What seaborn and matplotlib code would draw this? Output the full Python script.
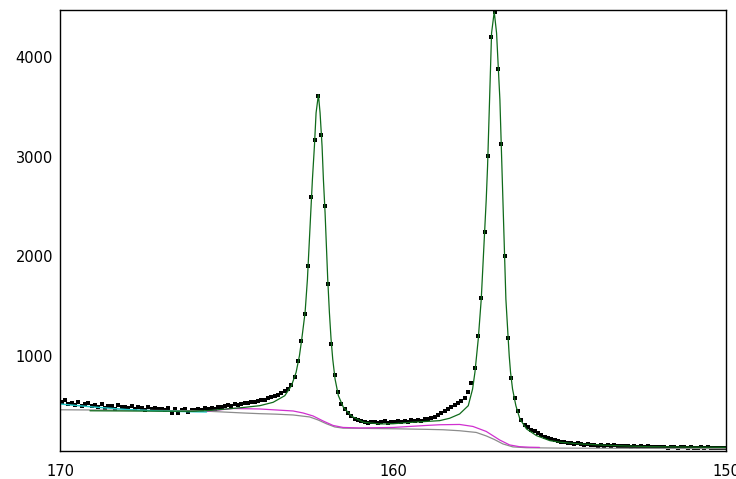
import numpy as np
import matplotlib
matplotlib.use("Agg")
import matplotlib.pyplot as plt
import seaborn as sns
import pandas as pd

# measured spectrum, 0.1 eV steps from 169.95 down to 150.05
energy = np.round(np.arange(169.95, 150.0, -0.1), 2)
counts = [
    545, 560, 520, 530, 510, 535, 500, 515, 525, 495,
    505, 490, 515, 480, 500, 495, 470, 505, 485, 490,
    480, 495, 470, 485, 475, 460, 490, 470, 480, 465,
    470, 455, 480, 430, 465, 425, 460, 470, 440, 455,
    460, 470, 455, 475, 465, 480, 470, 490, 485, 495,
    505, 500, 515, 510, 520, 530, 525, 540, 535, 555,
    565, 560, 580, 590, 600, 615, 635, 650, 675, 710,
    790, 950, 1150, 1420, 1900, 2590, 3170, 3610, 3220, 2500,
    1720, 1120, 810, 640, 515, 465, 430, 395, 372, 358,
    345, 340, 330, 342, 335, 325, 338, 345, 330, 340,
    335, 345, 340, 350, 338, 355, 348, 360, 352, 365,
    372, 380, 392, 405, 425, 445, 470, 490, 505, 525,
    550, 585, 640, 730, 880, 1200, 1580, 2240, 3010, 4200,
    4450, 3880, 3130, 2000, 1180, 780, 580, 450, 360, 310,
    285, 262, 245, 228, 210, 190, 178, 165, 158, 150,
    140, 135, 128, 132, 120, 125, 118, 112, 120, 108,
    110, 104, 112, 100, 106, 98, 105, 96, 102, 95,
    98, 92, 100, 90, 95, 88, 97, 90, 86, 94,
    88, 92, 84, 90, 86, 82, 91, 85, 80, 88,
    84, 80, 87, 78, 85, 82, 76, 84, 80, 78,
]

# fitted envelope
fit_x = [169.1, 168, 167, 166, 165.5, 165, 164.5, 164.0, 163.6, 163.25, 163.05,
         162.91, 162.81, 162.74, 162.64, 162.57, 162.52, 162.47, 162.42, 162.36,
         162.31, 162.24, 162.19, 162.13, 162.09, 162.04, 162.00, 161.96, 161.91,
         161.86, 161.81, 161.74, 161.64, 161.49, 161.24, 160.89, 160.4, 160.0,
         159.5, 159.0, 158.6, 158.3, 158.0, 157.74, 157.61, 157.54, 157.49, 157.44,
         157.35, 157.30, 157.25, 157.20, 157.16, 157.13, 157.10, 157.07, 157.04,
         156.96, 156.89, 156.84, 156.79, 156.76, 156.73, 156.70, 156.67, 156.64,
         156.61, 156.54, 156.51, 156.47, 156.41, 156.31, 156.19, 155.99, 155.69,
         155.29, 154.99, 154.4, 153.5, 152.4, 151.0, 150.0]
fit_y = [452, 450, 448, 447, 455, 470, 485, 503, 537, 603, 703,
         837, 1003, 1170, 1437, 1770, 2103, 2437, 2770, 3103,
         3437, 3620, 3437, 3103, 2770, 2437, 2103, 1770, 1437,
         1170, 970, 770, 603, 487, 397, 337, 320, 322,
         335, 345, 353, 377, 420, 503, 670, 837, 1003, 1170,
         1570, 1903, 2237, 2570, 2903, 3237, 3570, 3903, 4237,
         4450, 4237, 3903, 3570, 3237, 2903, 2570, 2237, 1903,
         1570, 1170, 1003, 837, 670, 503, 370, 270, 203,
         153, 137, 120, 105, 93, 88, 86]

# backgrounds
bg_x = [170, 168, 166, 165.6, 164.5, 164, 163.5, 163, 162.5, 162.25, 162, 161.75,
        161.5, 161, 160, 159, 158.5, 158, 157.5, 157.2, 156.96, 156.7, 156.4,
        156, 155, 152, 150]
bg_y = [462, 458, 452, 448, 430, 423, 418, 410, 390, 360, 322, 290,
        278, 276, 272, 266, 262, 252, 235, 200, 165, 120, 90,
        82, 78, 75, 72]

mag_x = [165.6, 164.8, 164, 163.5, 163, 162.7, 162.4, 162.1, 161.8, 161.5, 161,
         160, 159, 158.6, 158, 157.6, 157.2, 156.8, 156.5, 156.2, 155.9, 155.6]
mag_y = [448, 475, 470, 460, 450, 430, 400, 350, 305, 285, 280,
         285, 305, 312, 315, 295, 245, 160, 110, 92, 87, 85]

cyan_x = [170, 169, 168, 167, 166, 165.6]
cyan_y = [520, 490, 465, 450, 442, 440]

data = pd.DataFrame({"BE": energy, "Counts": counts})

sns.set_style("white")
fig = plt.figure(figsize=(7.36, 4.79), dpi=100)
ax = fig.add_axes([60 / 736, 1 - 451 / 479, 666 / 736, 441 / 479])

sns.lineplot(x=bg_x, y=bg_y, color="#8c8c8c", linewidth=0.9, ax=ax)
sns.lineplot(x=mag_x, y=mag_y, color="#d030d0", linewidth=0.9, ax=ax)
sns.lineplot(x=cyan_x, y=cyan_y, color="#20c8c8", linewidth=1.0, ax=ax)
sns.lineplot(x=fit_x, y=fit_y, color="#0f6a1a", linewidth=0.9, ax=ax)
sns.scatterplot(data=data, x="BE", y="Counts", color="black", marker="s",
                s=6, linewidth=0, ax=ax)

ax.set_xlim(170, 150)
ax.set_ylim(49, 4468)
ax.set_xticks([170, 160, 150])
ax.set_yticks([1000, 2000, 3000, 4000])
ax.set_xlabel("")
ax.set_ylabel("")
ax.tick_params(axis="x", direction="in", length=3, width=1, pad=9,
               labelsize=10.5, colors="black")
ax.tick_params(axis="y", direction="out", length=3, width=1, pad=2,
               labelsize=10.5, colors="black")
for s in ax.spines.values():
    s.set_color("black")
    s.set_linewidth(1)

fig.savefig("out.png", dpi=100)
